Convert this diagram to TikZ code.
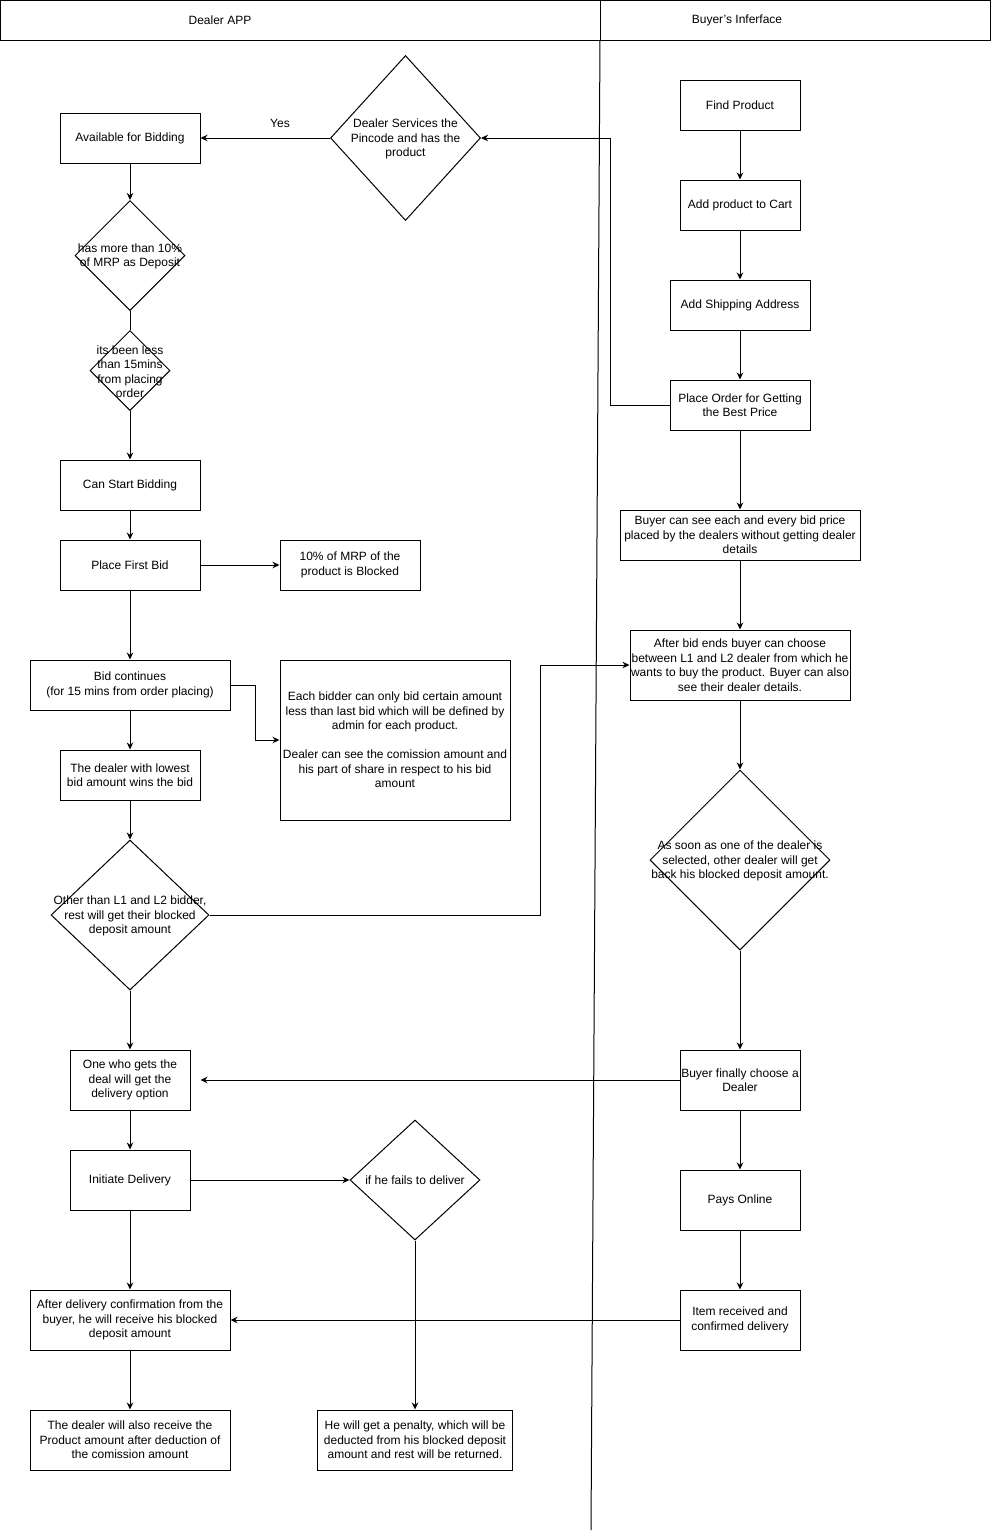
\documentclass[tikz,border=0pt]{standalone}
\usepackage{fontspec}
\setmainfont{Liberation Sans}
\usetikzlibrary{shapes.geometric,arrows.meta}
\begin{document}
\begin{tikzpicture}[x=1pt,y=-1pt,line width=1pt,
  txt/.style={font=\fontsize{12}{14.5}\selectfont},
  box/.style={draw,rectangle,inner sep=0pt,align=center,txt},
  dia/.style={draw,diamond,inner sep=0pt},
  lbl/.style={align=center,txt,inner sep=0pt},
  arr/.style={-{Stealth[length=7pt,width=6.5pt]}}]
\useasboundingbox (0,0) rectangle (991,1532);
% header
\draw (0.5,0.5) rectangle (990,40);
\draw (600,0.5) -- (600,40);
\draw (600,40) -- (591,1530);
\node[lbl] (hdealer) at (220,20.5) {Dealer APP};
\node[lbl] (hbuyer) at (737,20.5) {Buyer{\char"0027}s Inferface};
% buyer column
\node[box,minimum width=120pt,minimum height=50pt] (find) at (740,105) {Find Product};
\node[box,minimum width=120pt,minimum height=50pt] (cart) at (740,205) {Add product to Cart};
\node[box,minimum width=140pt,minimum height=50pt] (ship) at (740,305) {Add Shipping Address};
\node[box,minimum width=140pt,minimum height=50pt] (place) at (740,405) {Place Order for Getting\\the Best Price};
\node[box,minimum width=240pt,minimum height=50pt] (see) at (740,535) {Buyer can see each and every bid price\\placed by the dealers without getting dealer\\details};
\node[box,minimum width=220pt,minimum height=70pt] (after) at (740,665) {After bid ends buyer can choose\\between L1 and L2 dealer from which he\\wants to buy the product. Buyer can also\\see their dealer details.};
\node[dia,minimum width=180pt,minimum height=180pt,label={[lbl,yshift=-1pt]center:{As soon as one of the dealer is\\selected, other dealer will get\\back his blocked deposit amount.}}] (soon) at (740,860) {};
\node[box,minimum width=120pt,minimum height=60pt] (final) at (740,1080) {Buyer finally choose a\\Dealer};
\node[box,minimum width=120pt,minimum height=60pt] (pays) at (740,1200) {Pays Online};
\node[box,minimum width=120pt,minimum height=60pt] (item) at (740,1320) {Item received and\\confirmed delivery};
% dealer column
\node[dia,minimum width=150pt,minimum height=165pt,label={[lbl,yshift=-1pt]center:{Dealer Services the\\Pincode and has the\\product}}] (ds) at (405.5,138) {};
\node[box,minimum width=140pt,minimum height=50pt] (avail) at (130,138) {Available for Bidding};
\node[lbl] (yes) at (280,123) {Yes};
\node[dia,minimum width=110pt,minimum height=110pt,label={[lbl,yshift=-1pt]center:{has more than 10\%\\of MRP as Deposit}}] (more) at (130,255.5) {};
\node[dia,minimum width=80pt,minimum height=80pt,label={[lbl,yshift=-1pt]center:{its been less\\than 15mins\\from placing\\order}}] (less) at (130,370.5) {};
\node[box,minimum width=140pt,minimum height=50pt] (canstart) at (130,485) {Can Start Bidding};
\node[box,minimum width=140pt,minimum height=50pt] (first) at (130,565) {Place First Bid};
\node[box,minimum width=140pt,minimum height=50pt] (blocked) at (350,565) {10\% of MRP of the\\product is Blocked};
\node[box,minimum width=200pt,minimum height=50pt] (cont) at (130,685) {Bid continues\\(for 15 mins from order placing)};
\node[box,minimum width=230pt,minimum height=160pt] (each) at (395,740) {Each bidder can only bid certain amount\\less than last bid which will be defined by\\admin for each product.\\[14.5pt]Dealer can see the comission amount and\\his part of share in respect to his bid\\amount};
\node[box,minimum width=140pt,minimum height=50pt] (lowest) at (130,775) {The dealer with lowest\\bid amount wins the bid};
\node[dia,minimum width=158pt,minimum height=150pt,label={[lbl,yshift=-1pt]center:{Other than L1 and L2 bidder,\\rest will get their blocked\\deposit amount}}] (other) at (130,915) {};
\node[box,minimum width=120pt,minimum height=60pt] (onewho) at (130,1080) {One who gets the\\deal will get the\\delivery option};
\node[box,minimum width=120pt,minimum height=60pt] (init) at (130,1180) {Initiate Delivery};
\node[dia,minimum width=130pt,minimum height=120pt,label={[lbl]center:{if he fails to deliver}}] (fails) at (415,1180) {};
\node[box,minimum width=200pt,minimum height=60pt] (deliv) at (130,1320) {After delivery confirmation from the\\buyer, he will receive his blocked\\deposit amount};
\node[box,minimum width=200pt,minimum height=60pt] (also) at (130,1440) {The dealer will also receive the\\Product amount after deduction of\\the comission amount};
\node[box,minimum width=195pt,minimum height=60pt] (penalty) at (415,1440) {He will get a penalty, which will be\\deducted from his blocked deposit\\amount and rest will be returned.};
% buyer connectors
\draw[arr] (find) -- (cart);
\draw[arr] (cart) -- (ship);
\draw[arr] (ship) -- (place);
\draw[arr] (place) -- (see);
\draw[arr] (see) -- (after);
\draw[arr] (after) -- (soon);
\draw[arr] (soon) -- (final);
\draw[arr] (final) -- (pays);
\draw[arr] (pays) -- (item);
\draw[arr] (place.west) -- ++(-59,0) |- (ds.east);
% dealer connectors
\draw[arr] (ds.west) -- (avail.east);
\draw[arr] (avail) -- (more);
\draw (more) -- (less);
\draw[arr] (less) -- (canstart);
\draw[arr] (canstart) -- (first);
\draw[arr] (first) -- (blocked);
\draw[arr] (first) -- (cont);
\draw[arr] (cont.east) -- ++(25,0) |- (each.west);
\draw[arr] (cont) -- (lowest);
\draw[arr] (lowest) -- (other);
\draw[arr] (other.east) -- ++(331,0) |- (after.west);
\draw[arr] (other) -- (onewho);
\draw[arr,shorten >=10pt] (final.west) -- (onewho.east);
\draw[arr] (onewho) -- (init);
\draw[arr] (init) -- (fails);
\draw[arr] (init) -- (deliv);
\draw[arr] (fails) -- (penalty);
\draw[arr] (item) -- (deliv);
\draw[arr] (deliv) -- (also);
\end{tikzpicture}
\end{document}
